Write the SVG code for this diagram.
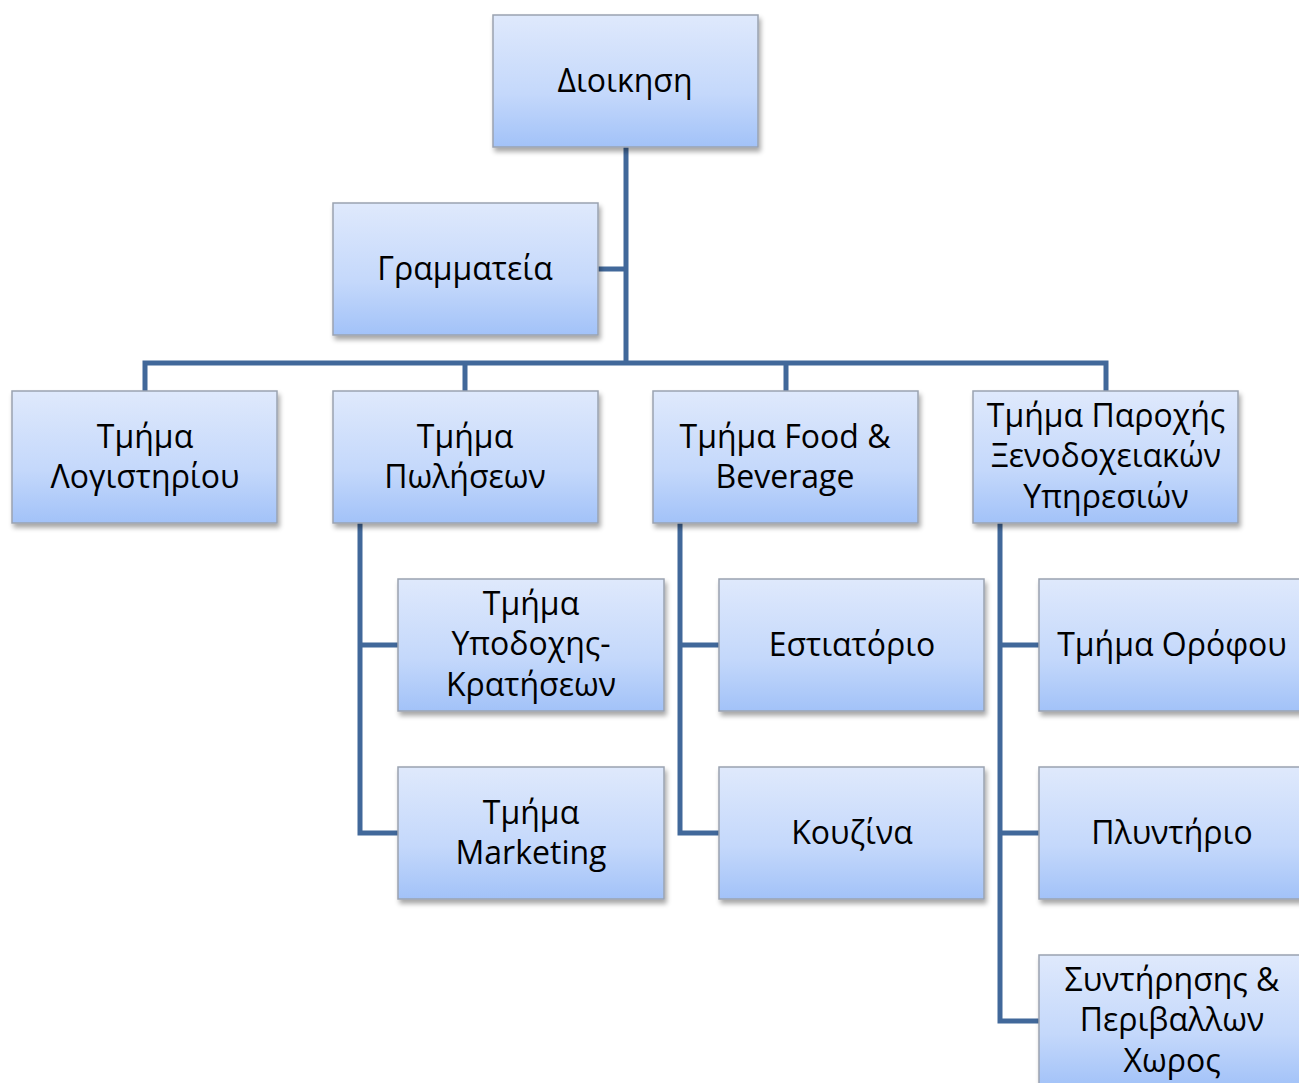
<svg xmlns="http://www.w3.org/2000/svg" width="1299" height="1083" viewBox="0 0 1299 1083">
<defs>
<linearGradient id="g" x1="0" y1="0" x2="0" y2="1">
<stop offset="0" stop-color="#dfe9fc"/>
<stop offset="0.6" stop-color="#c4d8fb"/>
<stop offset="1" stop-color="#a2c2f8"/>
</linearGradient>
<filter id="sh" x="-10%" y="-10%" width="125%" height="130%">
<feGaussianBlur in="SourceAlpha" stdDeviation="2.5"/>
<feOffset dx="2" dy="4" result="b"/>
<feComponentTransfer><feFuncA type="linear" slope="0.35"/></feComponentTransfer>
<feMerge><feMergeNode/><feMergeNode in="SourceGraphic"/></feMerge>
</filter>
</defs>
<style>
.box{fill:url(#g);stroke:#9aa3b0;stroke-width:1.5;filter:url(#sh)}
.t{font-family:"Open Sans","Liberation Sans",sans-serif;font-size:32px;fill:#000;text-anchor:middle}
.c{fill:none;stroke:#41689a;stroke-width:5}
</style>
<rect width="1299" height="1083" fill="#fff"/>
<g id="connectors">
<path class="c" d="M626 147V363M598 269H626M145 391V363H1106V391M465 363V391M786 363V391"/>
<path class="c" d="M360 523V833H398M360 645H398"/>
<path class="c" d="M680 523V833H719M680 645H719"/>
<path class="c" d="M1000 523V1021H1039M1000 645H1039M1000 833H1039"/>
</g>
<g id="n1"><rect class="box" x="493" y="15" width="265" height="132"/><text class="t" x="625" y="92">Διοικηση</text></g>
<g id="n2"><rect class="box" x="333" y="203" width="265" height="132"/><text class="t" x="465" y="280">Γραμματεία</text></g>
<g id="n3"><rect class="box" x="12" y="391" width="265" height="132"/><text class="t" x="145" y="448">Τμήμα</text><text class="t" x="145" y="488">Λογιστηρίου</text></g>
<g id="n4"><rect class="box" x="333" y="391" width="265" height="132"/><text class="t" x="465" y="448">Τμήμα</text><text class="t" x="465" y="488">Πωλήσεων</text></g>
<g id="n5"><rect class="box" x="653" y="391" width="265" height="132"/><text class="t" x="785" y="448">Τμήμα Food &amp;</text><text class="t" x="785" y="488">Beverage</text></g>
<g id="n6"><rect class="box" x="973" y="391" width="265" height="132"/><text class="t" x="1106" y="427">Τμήμα Παροχής</text><text class="t" x="1106" y="467">Ξενοδοχειακών</text><text class="t" x="1106" y="508">Υπηρεσιών</text></g>
<g id="n7"><rect class="box" x="398" y="579" width="266" height="132"/><text class="t" x="531" y="615">Τμήμα</text><text class="t" x="531" y="655">Υποδοχης-</text><text class="t" x="531" y="696">Κρατήσεων</text></g>
<g id="n8"><rect class="box" x="398" y="767" width="266" height="132"/><text class="t" x="531" y="824">Τμήμα</text><text class="t" x="531" y="864">Marketing</text></g>
<g id="n9"><rect class="box" x="719" y="579" width="265" height="132"/><text class="t" x="852" y="656">Εστιατόριο</text></g>
<g id="n10"><rect class="box" x="719" y="767" width="265" height="132"/><text class="t" x="852" y="844">Κουζίνα</text></g>
<g id="n11"><rect class="box" x="1039" y="579" width="265" height="132"/><text class="t" x="1172" y="656">Τμήμα Ορόφου</text></g>
<g id="n12"><rect class="box" x="1039" y="767" width="265" height="132"/><text class="t" x="1172" y="844">Πλυντήριο</text></g>
<g id="n13"><rect class="box" x="1039" y="955" width="265" height="132"/><text class="t" x="1172" y="991">Συντήρησης &amp;</text><text class="t" x="1172" y="1031">Περιβαλλων</text><text class="t" x="1172" y="1072">Χωρος</text></g>
</svg>
